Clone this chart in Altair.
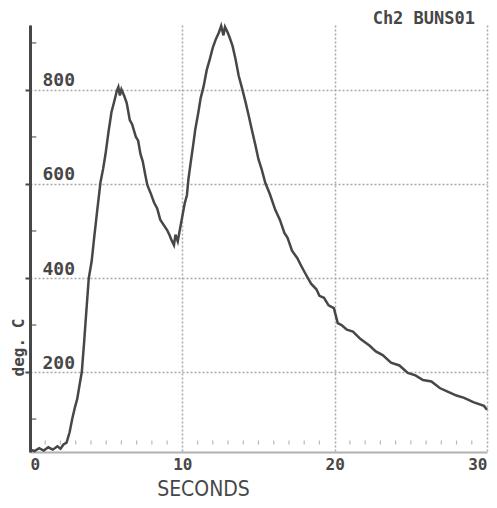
import altair as alt
import pandas as pd

seconds = [0.0, 0.3, 0.6, 0.9, 1.2, 1.5, 1.8, 2.0, 2.2, 2.4, 2.6, 2.77, 2.95, 3.1, 3.25, 3.4,
           3.55, 3.7, 3.86, 4.05, 4.2, 4.4, 4.63, 4.8, 4.95, 5.15, 5.35, 5.55, 5.7, 5.8, 5.9,
           6.0, 6.2, 6.35, 6.55, 6.7, 6.95, 7.1, 7.25, 7.4, 7.55, 7.7, 7.9, 8.15, 8.35, 8.55,
           8.75, 9.0, 9.15, 9.3, 9.45, 9.55, 9.7, 9.85, 9.97, 10.15, 10.3, 10.4, 10.55, 10.7,
           10.85, 11.05, 11.2, 11.4, 11.6, 11.8, 12.0, 12.2, 12.4, 12.55, 12.7, 12.8, 12.95,
           13.1, 13.3, 13.5, 13.7, 13.9, 14.15, 14.35, 14.6, 14.8, 15.0, 15.2, 15.45, 15.75,
           16.1, 16.4, 16.7, 16.9, 17.2, 17.55, 17.8, 18.1, 18.45, 18.8, 19.0, 19.3, 19.6,
           19.95, 20.2, 20.45, 20.8, 21.2, 21.7, 22.3, 22.7, 23.15, 23.7, 24.25, 24.8, 25.3,
           25.8, 26.35, 26.9, 27.45, 28.0, 28.5, 29.1, 29.8, 30.0]
deg_c = [35, 32, 38, 33, 40, 35, 42, 37, 46, 50, 72, 100, 125, 143, 172, 200,
         262, 330, 400, 436, 482, 540, 604, 632, 662, 710, 753, 778, 798, 806, 788,
         801, 786, 772, 736, 727, 700, 692, 664, 648, 622, 598, 582, 560, 548, 524,
         514, 502, 492, 480, 470, 492, 478, 505, 526, 558, 576, 610, 646, 680,
         716, 752, 782, 808, 842, 865, 890, 908, 922, 936, 916, 934, 924,
         912, 893, 864, 830, 806, 774, 746, 710, 682, 652, 632, 602, 578,
         545, 524, 496, 486, 458, 442, 426, 408, 388, 376, 362, 358, 342,
         336, 304, 300, 290, 286, 270, 256, 244, 236, 220, 214, 198, 193,
         183, 180, 166, 158, 150, 145, 136, 128, 120]

x_ticks = [0, 10, 20, 30]
y_ticks = [200, 400, 600, 800]
minor_seconds = [s for s in range(1, 30) if s % 10 != 0]
minor_deg = [100, 300, 500, 700, 900]

df = pd.DataFrame({"seconds": seconds, "deg": deg_c})
mono = "DejaVu Sans Mono"
narrow = "DejaVu Sans Condensed, Liberation Sans Narrow, Roboto, sans-serif"
ink = "#474747"

x_scale = alt.Scale(domain=[0, 30], nice=False, zero=False)
y_scale = alt.Scale(domain=[30, 938], nice=False, zero=False)

line = alt.Chart(df).mark_line(color=ink, strokeWidth=2.5).encode(
    x=alt.X("seconds:Q", scale=x_scale, axis=alt.Axis(
        values=x_ticks, title="SECONDS", format="d", labelFlush=True,
        labelFont=mono, labelFontSize=16, labelFontWeight="bold", labelColor=ink,
        labelPadding=4, tickSize=0,
        domainColor="#b0b0b0", domainWidth=2,
        grid=True, gridColor="#a8a8a8", gridDash=[2, 2], gridWidth=1.5,
        titleFont=narrow, titleFontSize=21, titleFontWeight="normal",
        titleColor=ink, titleX=173, titleY=43, titleAlign="center",
        titleBaseline="alphabetic")),
    y=alt.Y("deg:Q", scale=y_scale, axis=alt.Axis(
        values=y_ticks, title="deg. C",
        labelFont=mono, labelFontSize=18, labelFontWeight="bold", labelColor=ink,
        labelAlign="left", labelBaseline="bottom", labelPadding=-17, labelOffset=0,
        tickSize=5, tickWidth=2, tickColor=ink,
        domainColor=ink, domainWidth=3,
        grid=True, gridColor="#a8a8a8", gridDash=[2, 2], gridWidth=1.5,
        titleFont=mono, titleFontSize=16, titleFontWeight="bold", titleColor=ink,
        titleAngle=270, titleX=-12, titleY=322, titleAlign="center",
        titleBaseline="middle")),
)

minor_x = alt.Chart(pd.DataFrame({"s": minor_seconds})).mark_tick(
    color="#9a9a9a", thickness=1.2, size=4, orient="vertical").encode(
    x=alt.X("s:Q", scale=x_scale), y=alt.datum(50))

minor_y = alt.Chart(pd.DataFrame({"d": minor_deg})).mark_tick(
    color=ink, thickness=1.5, size=5, orient="horizontal").encode(
    y=alt.Y("d:Q", scale=y_scale), x=alt.datum(0.25))

chart = alt.layer(line, minor_x, minor_y).properties(
    width=457, height=427,
    autosize=alt.AutoSizeParams(type="none"),
    padding={"left": 22, "top": 17, "right": 2, "bottom": 48},
    title=alt.TitleParams("Ch2 BUNS01", anchor="end", dx=-17, dy=9, offset=2,
                          font=mono, fontSize=17, fontWeight="bold", color=ink),
).configure_view(stroke=None)

chart.save("out.html", embed_options={"renderer": "svg", "actions": False})
